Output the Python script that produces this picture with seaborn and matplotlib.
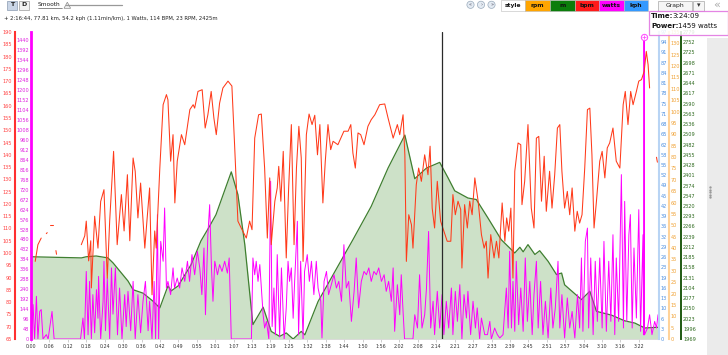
import numpy as np
import pandas as pd
import matplotlib
matplotlib.use('Agg')
import matplotlib.pyplot as plt
import seaborn as sns
from matplotlib.patches import Rectangle, Circle, Polygon

nan = np.nan

# ride data, time in minutes
alt_time = [0.0, 16.8, 18.4, 21.7, 25.6, 27.3, 32.3, 34.0, 37.3, 40.6, 42.9, 45.6, 46.7, 49.0, 53.3, 56.6,
            59.5, 61.6, 66.7, 68.9, 71.2, 73.9, 77.3, 80.0, 82.8, 85.0, 87.3, 90.0, 91.2, 95.6, 102.2, 107.2,
            113.3, 118.9, 124.5, 127.8, 131.7, 136.1, 138.9, 141.1, 145.5, 148.3, 152.2, 156.6, 161.1, 162.8,
            163.9, 165.5, 167.8, 169.4, 172.2, 175.0, 176.7, 177.7, 183.3, 186.1, 188.3, 193.3, 197.7, 201.1,
            204.4, 208.8]
alt_m = [2186, 2183, 2186, 2188, 2183, 2170, 2122, 2099, 2090, 2069, 2051, 2109, 2096, 2109, 2165, 2228,
         2267, 2297, 2410, 2350, 2218, 2007, 2053, 1989, 1976, 1985, 1969, 1989, 1980, 2068, 2161, 2231,
         2319, 2420, 2507, 2392, 2420, 2435, 2394, 2360, 2341, 2337, 2288, 2231, 2196, 2211,
         2199, 2218, 2192, 2202, 2174, 2139, 2143, 2112, 2073, 2095, 2042, 2032, 2017, 2011,
         1998, 2000]

watts_time = [0.1, 0.7, 1.2, 1.8, 2.3, 2.9, 3.4, 4.0, 5.1, 5.7,
              7.0, 7.7, 16.5, 17.3, 17.8, 18.4, 19.0, 19.5, 20.1, 20.6,
              21.2, 21.8, 22.3, 22.5, 23.2, 24.0, 24.3, 24.8, 25.4, 26.2,
              26.8, 27.3, 28.1, 28.8, 29.5, 30.3, 31.2, 31.7, 32.3, 33.2,
              34.0, 34.7, 35.6, 36.5, 37.3, 38.1, 39.0, 39.5, 40.3, 41.0,
              41.5, 42.1, 42.5, 43.2, 44.0, 44.5, 45.1, 45.6, 46.5, 47.3,
              47.8, 48.7, 49.5, 50.3, 51.2, 52.1, 52.8, 53.6, 54.5, 55.4,
              56.2, 56.9, 57.6, 58.1, 58.9, 59.5, 60.1, 60.6, 61.2, 62.1,
              62.8, 63.6, 64.5, 65.4, 66.0, 66.7, 73.4, 73.9, 74.5, 75.0,
              75.6, 76.2, 76.7, 77.3, 77.8, 78.4, 79.2, 79.8, 80.3, 80.9,
              81.4, 82.0, 82.8, 83.4, 84.3, 85.0, 85.6, 86.1, 86.7, 87.3,
              87.8, 88.7, 89.1, 89.8, 90.6, 91.1, 92.0, 92.7, 93.4, 94.2,
              95.0, 95.6, 96.5, 96.9, 97.6, 98.4, 99.1, 100.0, 100.9, 101.7,
              102.5, 103.4, 104.2, 105.0, 105.8, 106.7, 107.6, 108.3, 109.1, 110.0,
              110.9, 111.7, 112.5, 113.3, 114.2, 115.0, 115.8, 116.7, 117.6, 118.3,
              119.1, 120.0, 120.6, 121.1, 122.0, 122.8, 123.3, 123.9, 124.4, 127.2,
              127.8, 128.7, 129.4, 130.2, 131.1, 131.7, 132.4, 133.1, 133.9, 134.4,
              135.3, 136.1, 136.9, 137.5, 138.3, 139.1, 140.0, 140.5, 141.3, 142.0,
              142.8, 143.5, 144.2, 145.0, 145.5, 146.4, 147.2, 148.0, 148.6, 149.4,
              150.0, 151.1, 152.0, 152.8, 153.3, 154.4, 155.3, 156.1, 157.2, 158.3,
              158.9, 159.4, 160.0, 160.5, 161.1, 161.6, 162.4, 163.1, 163.9, 164.6,
              165.3, 166.1, 166.9, 167.5, 168.3, 168.9, 169.7, 170.5, 171.3, 172.2,
              173.1, 173.8, 174.6, 175.5, 176.1, 176.8, 177.7, 178.6, 179.4, 180.2,
              181.1, 182.0, 182.7, 183.3, 183.8, 184.6, 185.3, 185.7, 186.4, 187.2,
              187.9, 188.6, 189.4, 190.2, 190.8, 191.6, 192.4, 193.1, 193.8, 194.4,
              194.9, 195.7, 196.6, 197.3, 197.7, 198.4, 199.1, 199.6, 200.2, 200.8,
              201.6, 202.4, 203.0, 203.8, 204.0, 204.15, 204.3, 205.3, 206.0, 206.8,
              207.7, 208.3, 208.8]
watts = [0, 166, 0, 206, 0, 133, 142, 0, 21, 0,
         133, 0, 0, 101, 0, 326, 20, 278, 0, 214,
         30, 238, 100, 302, 0, 182, 375, 40, 294, 0,
         343, 120, 343, 20, 246, 0, 214, 60, 230, 40,
         278, 0, 214, 30, 182, 278, 40, 182, 0, 278,
         0, 600, 0, 471, 375, 632, 246, 278, 214, 343,
         246, 294, 246, 343, 278, 375, 278, 407, 310, 423,
         343, 214, 439, 117, 503, 648, 343, 182, 375, 310,
         359, 326, 375, 318, 391, 0, 0, 391, 310, 375,
         278, 359, 246, 117, 53, 85, 0, 761, 60, 246,
         20, 407, 10, 343, 0, 150, 375, 278, 343, 100,
         278, 568, 20, 375, 0, 326, 407, 278, 375, 214,
         375, 246, 182, 5, 278, 326, 214, 262, 310, 246,
         278, 182, 455, 246, 278, 85, 230, 391, 150, 278,
         326, 310, 343, 278, 326, 310, 343, 278, 310, 230,
         278, 182, 343, 37, 262, 117, 310, 133, 0, 0,
         117, 53, 310, 53, 117, 246, 519, 53, 182, 21,
         230, 53, 214, 21, 182, 53, 246, 21, 230, 85,
         262, 0, 214, 101, 230, 21, 182, 53, 150, 0,
         101, 21, 21, 85, 0, 53, 21, 5, 21, 246,
         53, 423, 53, 278, 37, 375, 69, 246, 37, 391,
         85, 278, 21, 214, 375, 53, 278, 21, 182, 5,
         246, 53, 150, 375, 53, 214, 5, 198, 53, 133,
         5, 214, 53, 391, 37, 471, 535, 53, 391, 21,
         375, 85, 391, 53, 471, 37, 375, 85, 503, 21,
         391, 85, 793, 53, 664, 85, 503, 600, 53, 439,
         101, 624, 37, 503, 20, 1459, 20, 53, 117, 21,
         85, 53, 117]

# heart rate, nan marks a gap in the recording
hr_time = [1.4, 2.3, 3.4, nan, 5.1, 5.4, nan, 6.3, 7.3, nan, 8.3, 8.5, nan,
           16.75, 17.9, 18.4, 19.2, 19.9, 20.1, 21.2, 22.3, 23.2, 24.3, 25.4, 26.2, 27.5, 28.7, 30.1, 31.0,
           32.1, 32.9, 34.0, 34.7, 35.6, 36.5, 37.9, 38.6, 39.5, 40.3, 41.2, 41.7, 42.9, 44.0, 45.1, 45.6,
           46.5, 47.3, 47.9, 48.7, 50.1, 51.2, 52.9, 54.0, 54.5, 55.6, 57.0, 58.0, 58.9, 60.0, 60.9, 61.7,
           62.8, 63.9, 65.6, 66.9, 67.8, 68.9, 70.0, 71.7, 72.8, 73.6, 74.5, 75.8, 76.7, 77.8, 78.7, 79.5,
           80.0, 81.2, 82.0, 82.5, 83.2, 84.0, 85.0, 85.8, 86.7, 87.6, 88.4, 89.2, 90.0, 90.6, 91.7, 92.6,
           93.6, 94.5, 95.4, 96.2, 97.2, 98.0, 98.9, 99.8, 100.6, 102.2, 104.2, 105.6, 106.5, 107.2, 108.0,
           108.9, 109.8, 110.9, 112.2, 113.3, 114.5, 116.1, 117.8, 118.9, 120.6, 122.0, 122.8, 123.9, 124.5,
           125.0, 125.8, 126.7, 127.2, 128.3, 129.1, 130.0, 131.1, 132.2, 132.9, 133.6, 134.4, 135.3, 136.4,
           137.5, 138.6, 139.8, 140.5, 141.3, 142.2, 143.1, 143.5, 144.4, 145.3, 146.1, 146.9, 147.8, 148.9,
           150.0, 150.9, 151.6, 152.2, 153.1, 154.2, 155.0, 155.8, 156.9, 157.8, 158.4, 159.1, 159.8, 160.5,
           161.1, 162.2, 163.1, 163.5, 164.4, 165.5, 166.6, 167.5, 168.3, 169.1, 170.0, 170.9, 171.6, 172.7,
           173.5, 174.4, 175.3, 176.1, 176.8, 177.7, 178.6, 179.4, 180.2, 181.1, 181.9, 182.7, 183.5, 184.4,
           185.3, 186.1, 186.8, 187.5, 188.3, 189.4, 190.2, 191.1, 191.9, 192.7, 193.8, 194.9, 196.1, 197.2,
           197.9, 198.8, 199.7, 200.5, 201.6, 202.4, 203.3, 204.2, 204.9, 205.5, 206.0, nan, 208.3, 208.6]
hr_bpm = [96.6, 103.4, 106.1, nan, 107.9, 108.3, nan, 111.5, 111.5, nan, 101, 99.5, nan,
          103.4, 107, 113, 96.8, 105, 85.8, 115, 102, 121, 125.8, 89.8, 113, 141.4, 103.4, 123.8, 109,
          131.9, 105, 138.7, 133.3, 114.3, 128.5, 102, 113, 126.5, 83, 109, 102, 134.6, 160.4, 164.5, 162.4,
          137.4, 148.2, 120.4, 137.4, 148.2, 144.1, 158.4, 160.4, 159, 165.8, 166.5, 150.9, 156.3, 165.8, 155, 148.2,
          161, 167.2, 170, 168, 144, 113, 110.2, 106.1, 113, 109.5, 146.8, 156.3, 156.6, 134.6, 106.1, 130.6,
          103.4, 121.1, 126.5, 135.3, 121.1, 141.4, 98, 126.5, 152.3, 103.4, 134.6, 151.6, 138.7, 96.6, 148.2, 156.6,
          152.3, 156.1, 140, 152.3, 120.4, 137.4, 152.3, 142.1, 145.5, 144.1, 149.6, 149.6, 152.3, 140.7, 134.6,
          148.9, 148.2, 144.1, 151.6, 154.3, 156.3, 160.4, 160.7, 155, 146.8, 152.3, 148.2, 156.3, 140,
          96.6, 115.6, 111.5, 102, 127.8, 134.6, 129.2, 140, 131.9, 143.5, 118.3, 110.2, 129.2, 113,
          108.9, 104.8, 104.8, 123.8, 115.6, 121.1, 117.7, 93.9, 119.7, 110.2, 121.1, 115.6, 130.6, 121.1,
          107.5, 102, 104.8, 89.8, 107.5, 98, 104.8, 98, 120.4, 104.8, 114.3, 108.9, 118.3, 89.8,
          133.3, 144.8, 144.1, 119.7, 129.2, 152.3, 118.3, 110.2, 146.8, 147.5, 121.1, 139.4, 117, 133.3,
          118.3, 131.9, 150.9, 152.3, 133.3, 118.3, 125.1, 115.6, 126.5, 108.9, 117, 112.2, 115.6, 134.6,
          158.4, 159, 140, 110.2, 121.1, 137.4, 141.4, 130.6, 142.8, 144.8, 150.9, 137.4, 134.6, 160.4,
          165.8, 152.3, 165.8, 160.4, 165.8, 170, 170.6, 174, 182.1, 176.7, 167.2, nan, 139, 137]

cursor_time = 136.73   # 2:16:44
peak_time = 204.15     # 3:24:09
peak_watts = 1459

xtick_step = 6.1345
xtick_labels = ['0:00', '0:06', '0:12', '0:18', '0:24', '0:30', '0:36', '0:42', '0:49', '0:55', '1:01',
                '1:07', '1:13', '1:19', '1:25', '1:32', '1:38', '1:44', '1:50', '1:56', '2:02', '2:08',
                '2:14', '2:21', '2:27', '2:33', '2:39', '2:45', '2:51', '2:57', '3:04', '3:10', '3:16', '3:22']
kph_labels = ['0', '3', '6', '10', '13', '16', '19', '23', '26', '29', '32', '36', '39', '42', '45', '49',
              '52', '55', '58', '62', '65', '68', '71', '75', '78', '81', '84', '87', '91', '94', '97']

sns.set_theme(style='white')
plt.rcParams['font.family'] = ['DejaVu Sans']

W, H = 728, 355
fig = plt.figure(figsize=(W / 100, H / 100), dpi=100)
fig.patch.set_facecolor('white')


def box(x0, y0, x1, y1):
    return [x0 / W, 1 - y1 / H, (x1 - x0) / W, (y1 - y0) / H]


ax = fig.add_axes(box(31, 32, 658, 339))
ax_w = ax.twinx()
ax_hr = ax.twinx()
ax_kph = ax.twinx()
ax_rpm = ax.twinx()

for a in [ax, ax_w, ax_hr, ax_kph, ax_rpm]:
    for s in a.spines.values():
        s.set_visible(False)
    a.tick_params(axis='y', length=0, labelsize=3.6, pad=1.4)

# altitude (filled)
ax.fill_between(alt_time, alt_m, 1969, color='#cde1c8', lw=0)
sns.lineplot(x=alt_time, y=alt_m, ax=ax, color='#3f7f30', lw=0.9, estimator=None, sort=False)
ax.set_xlim(0, 208.8)
ax.set_ylim(1969, 2779)
ax.set_yticks([1969 + 27 * i for i in range(31)])
ax.yaxis.tick_right()
ax.tick_params(axis='y', labelcolor='#2e6a1e')
ax.spines['right'].set_visible(True)
ax.spines['right'].set_position(('outward', 16.6))
ax.spines['right'].set_color('#1f5a12')
ax.spines['right'].set_linewidth(1.4)
ax.set_xticks([xtick_step * i for i in range(len(xtick_labels))])
ax.set_xticklabels(xtick_labels)
ax.tick_params(axis='x', bottom=True, length=2, width=0.5, color='#bbbbbb',
               labelsize=3.4, labelcolor='#333333', pad=1.5)
ax.spines['bottom'].set_visible(True)
ax.spines['bottom'].set_color('#d8d8d8')
ax.spines['bottom'].set_linewidth(0.6)
ax.set_xlabel('')
ax.set_ylabel('')

# power
sns.lineplot(x=watts_time, y=watts, ax=ax_w, color='#ff00ff', lw=0.7, estimator=None, sort=False)
ax_w.plot([peak_time], [peak_watts], marker='o', ms=4.5, mfc='white', mec='#ff55ff', mew=0.8, clip_on=False)
ax_w.plot([peak_time], [peak_watts], marker='+', ms=3, mec='#ff55ff', mew=0.6, clip_on=False)
ax_w.set_ylim(0, 1481)
ax_w.set_yticks(range(0, 1441, 48))
ax_w.yaxis.tick_left()
ax_w.tick_params(axis='y', labelcolor='#e020e0', pad=1.2)
ax_w.spines['left'].set_visible(True)
ax_w.spines['left'].set_color('#ff00ff')
ax_w.spines['left'].set_linewidth(2)
ax_w.set_ylabel('')

# heart rate
hr = pd.DataFrame({'t': hr_time, 'bpm': hr_bpm})
hr['seg'] = hr['bpm'].isna().cumsum()
hr = hr.dropna()
sns.lineplot(data=hr, x='t', y='bpm', units='seg', estimator=None, ax=ax_hr,
             color='#ff3a1a', lw=0.75, sort=False)
ax_hr.axvline(cursor_time, color='#2a2a2a', lw=0.9)
ax_hr.set_ylim(65, 190)
ax_hr.set_yticks(range(65, 191, 5))
ax_hr.yaxis.tick_left()
ax_hr.tick_params(axis='y', labelcolor='#ff4040', pad=2)
ax_hr.spines['left'].set_visible(True)
ax_hr.spines['left'].set_position(('outward', 11.7))
ax_hr.spines['left'].set_color('#ff3030')
ax_hr.spines['left'].set_linewidth(1.5)
ax_hr.set_xlabel('')
ax_hr.set_ylabel('')

# speed and cadence scales (no line shown)
ax_kph.set_ylim(0, 97.2)
ax_kph.set_yticks([3.24 * i for i in range(31)])
ax_kph.set_yticklabels(kph_labels)
ax_kph.tick_params(axis='y', labelcolor='#4a8ee0')
ax_kph.spines['right'].set_visible(True)
ax_kph.spines['right'].set_position(('outward', 0.7))
ax_kph.spines['right'].set_color('#b8d4f4')
ax_kph.spines['right'].set_linewidth(1.5)

ax_rpm.set_ylim(0, 135)
ax_rpm.set_yticks(range(0, 136, 5))
ax_rpm.tick_params(axis='y', labelcolor='#f0a030')
ax_rpm.spines['right'].set_visible(True)
ax_rpm.spines['right'].set_position(('outward', 7.9))
ax_rpm.spines['right'].set_color('#ffd39a')
ax_rpm.spines['right'].set_linewidth(1.5)

# page furniture around the chart, in pixel coordinates
ui = fig.add_axes([0, 0, 1, 1], zorder=20)
ui.set_xlim(0, W)
ui.set_ylim(H, 0)
ui.axis('off')
ui.patch.set_visible(False)

ui.add_patch(Rectangle((7, 0.5), 10, 9, fc='#c9d5e6', ec='#8a9bb0', lw=0.5))
ui.text(12, 5, 'T', fontsize=4.5, fontweight='bold', ha='center', va='center', color='#222')
ui.add_patch(Rectangle((18.5, 0.5), 10.5, 9, fc='#f2f2f2', ec='#9a9a9a', lw=0.5))
ui.text(23.7, 5, 'D', fontsize=4.5, fontweight='bold', ha='center', va='center', color='#222')
ui.text(37.5, 4.3, 'Smooth', fontsize=4.2, va='center', color='#222')
ui.plot([37.5, 61.5], [7.6, 7.6], color='#333', lw=0.4)
ui.plot([66, 122], [5, 5], color='#999', lw=0.9)
ui.add_patch(Polygon([[64, 8.3], [67.3, 2.2], [70.6, 8.3]], fc='#f2f2f2', ec='#888', lw=0.5))
ui.text(4, 18.5, '+ 2:16:44, 77.81 km, 54.2 kph (1.11min/km), 1 Watts, 114 BPM, 23 RPM, 2425m',
        fontsize=3.75, va='center', color='#222')

for cx, sym in [(470.5, '«'), (481, '›'), (491.5, '»')]:
    ui.add_patch(Circle((cx, 4.8), 3.6, fc='#e4ebf3', ec='#9aaabb', lw=0.5))
    ui.text(cx, 4.6, sym, fontsize=3.5, ha='center', va='center', color='#556')

tabs = [('style', 501, 525, 'white'), ('rpm', 525, 550, '#ffa500'), ('m', 550, 575, '#0b7d0b'),
        ('bpm', 575, 599, '#ff1a1a'), ('watts', 599, 624, '#ff00ff'), ('kph', 624, 648, '#3399ff')]
for name, x0, x1, col in tabs:
    ui.add_patch(Rectangle((x0, 0), x1 - x0, 10.5, fc=col, ec='#bbbbbb', lw=0.4))
    ui.text((x0 + x1) / 2, 5.3, name, fontsize=4.3, fontweight='bold', ha='center', va='center', color='#111')

ui.add_patch(Rectangle((658, 0.5), 34, 10, fc='#f6f6f6', ec='#a8a8a8', lw=0.5))
ui.text(675, 5.5, 'Graph', fontsize=4.4, ha='center', va='center', color='#222')
ui.add_patch(Rectangle((693, 0.5), 11, 10, fc='#f6f6f6', ec='#a8a8a8', lw=0.5))
ui.text(698.5, 5.5, '▾', fontsize=5, ha='center', va='center', color='#333')
ui.text(717, 4.5, '«', fontsize=8, ha='center', va='center', color='#aaaaaa')

# grey side panel
ui.add_patch(Rectangle((707, 38), 21, H - 38, fc='#ebebeb', lw=0))
ui.plot([710] * 5, [187, 189.5, 192, 194.5, 197], 'o', ms=0.7, color='#999999')

# hover tooltip
ui.add_patch(Rectangle((649, 10.5), 79, 24, fc='white', ec='#e070e0', lw=0.9, alpha=0.85))
ui.text(651, 15.5, 'Time:', fontsize=5, fontweight='bold', va='center', color='#111')
ui.text(672, 15.5, '3:24:09', fontsize=5, va='center', color='#111')
ui.text(651, 25.5, 'Power:', fontsize=5, fontweight='bold', va='center', color='#111')
ui.text(678.5, 25.5, '1459 watts', fontsize=5, va='center', color='#111')

fig.savefig('out.png', dpi=100)
